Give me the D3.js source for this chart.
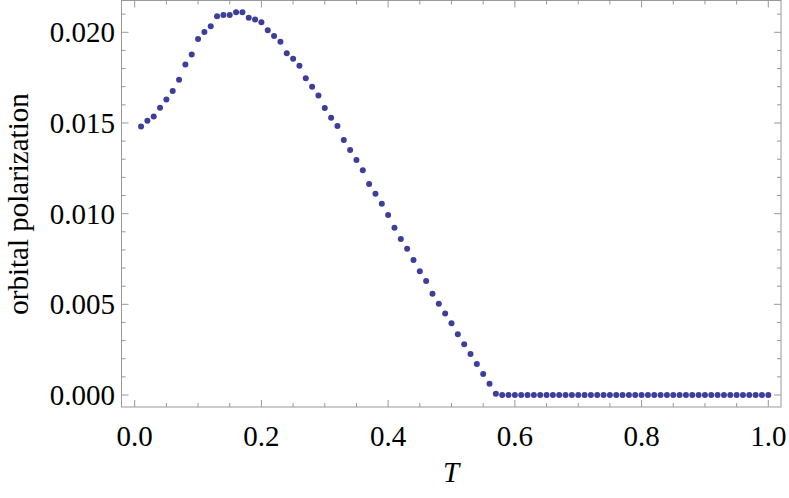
<!DOCTYPE html><html><head><meta charset="utf-8">
<script src="https://cdn.jsdelivr.net/npm/d3@7"></script>
<style>body{margin:0;background:#fff}</style></head><body><svg id="c" width="789" height="498"></svg>
<script>
const temps = d3.range(1,101).map(i=>i/100);
const nonzero = [0.0148,0.01512,0.01536,0.01584,0.0163,0.01676,0.01738,0.01823,0.01878,0.01963,0.02001,0.02033,0.02088,0.02095,0.02095,0.02111,0.02111,0.0208,0.02071,0.02056,0.02011,0.01979,0.01948,0.01885,0.01854,0.01815,0.01746,0.017,0.01652,0.01582,0.01529,0.01483,0.01406,0.01351,0.01296,0.0124,0.01163,0.0111,0.01055,0.00992,0.00922,0.0086,0.00807,0.00744,0.00682,0.00629,0.00558,0.00503,0.0045,0.00395,0.00335,0.0028,0.00226,0.00171,0.00116,0.00062,0.00007];
const polarization = nonzero.concat(d3.range(100-nonzero.length).map(()=>0));
const xTicks = [0,0.2,0.4,0.6,0.8,1.0];
const yTicks = [0,0.005,0.01,0.015,0.02];

const svg = d3.select("#c");
const L=121.5,R=781,T=0.5,B=407;
const x = d3.scaleLinear().domain([0,1]).range([134.7,768.3]);
const y = d3.scaleLinear().domain([0,0.02]).range([395,32.3]);
const frame="#999";
svg.append("rect").attr("x",L).attr("y",T).attr("width",R-L).attr("height",B-T).attr("fill","none").attr("stroke",frame).attr("stroke-width",1);
const g=svg.append("g").attr("stroke",frame).attr("stroke-width",1);
const xMinor=d3.range(-0.05,1.06,0.05).map(v=>+v.toFixed(2)).filter(v=>x(v)>L&&x(v)<R);
xMinor.forEach(v=>{const major=Math.abs(v*5-Math.round(v*5))<1e-6;const len=major?7:4;
 g.append("line").attr("x1",x(v)).attr("x2",x(v)).attr("y1",B).attr("y2",B-len);
 g.append("line").attr("x1",x(v)).attr("x2",x(v)).attr("y1",T).attr("y2",T+len);});
const yMinor=d3.range(-1,23).map(i=>i*0.001).filter(v=>y(v)>T&&y(v)<B);
yMinor.forEach((v,i)=>{const major=Math.round(v*1000)%5===0;const len=major?7:4;
 g.append("line").attr("y1",y(v)).attr("y2",y(v)).attr("x1",L).attr("x2",L+len);
 g.append("line").attr("y1",y(v)).attr("y2",y(v)).attr("x1",R).attr("x2",R-len);});
const font="Liberation Serif, Times New Roman, serif";
svg.selectAll(".xt").data(xTicks).enter().append("text").attr("x",d=>x(d)).attr("y",446)
 .attr("text-anchor","middle").attr("font-family",font).attr("font-size",29).text(d=>d.toFixed(1));
svg.selectAll(".yt").data(yTicks).enter().append("text").attr("x",115).attr("y",d=>y(d)+10)
 .attr("text-anchor","end").attr("font-family",font).attr("font-size",29).text(d=>d.toFixed(3));
svg.append("text").attr("x",451).attr("y",482).attr("text-anchor","middle").attr("font-family",font)
 .attr("font-style","italic").attr("font-size",29).text("T");
svg.append("text").attr("transform","translate(28,204) rotate(-90)").attr("text-anchor","middle")
 .attr("font-family",font).attr("font-size",29).text("orbital polarization");
svg.selectAll("circle").data(temps.map((t,i)=>[t,polarization[i]])).enter().append("circle")
 .attr("cx",d=>x(d[0])).attr("cy",d=>y(d[1])).attr("r",3).attr("fill","#3d3d9c");
</script></body></html>
